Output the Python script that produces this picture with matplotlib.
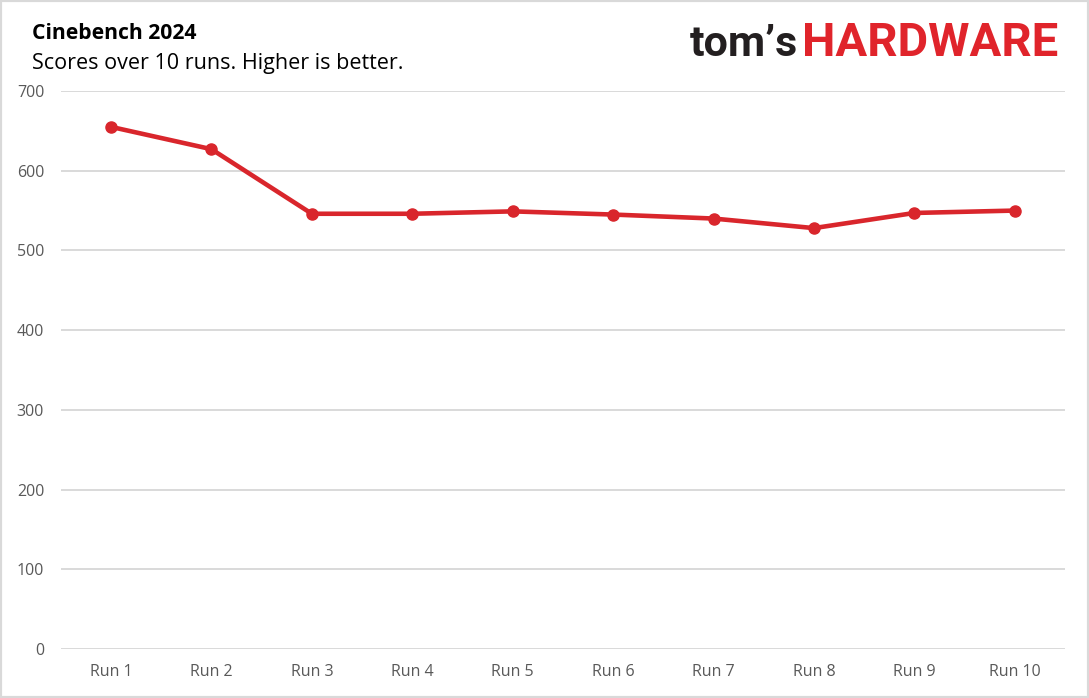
import matplotlib.pyplot as plt
from matplotlib.patches import Rectangle

runs = ['Run 1', 'Run 2', 'Run 3', 'Run 4', 'Run 5',
        'Run 6', 'Run 7', 'Run 8', 'Run 9', 'Run 10']
scores = [655, 627, 546, 546, 549, 545, 540, 528, 547, 550]
y_ticks = [0, 100, 200, 300, 400, 500, 600, 700]

RED = '#D9262C'
GRID = '#D9D9D9'
TICK = '#595959'

plt.rcParams['font.family'] = ['Open Sans', 'DejaVu Sans']

W, H = 1089, 698
fig = plt.figure(figsize=(W / 100, H / 100), dpi=100)
ax = fig.add_axes([60.8 / W, 1 - 649 / H, (1065 - 60.8) / W, (649 - 91) / H])

x = list(range(len(runs)))
ax.plot(x, scores, color=RED, linewidth=3.3, marker='o', markersize=8,
        solid_capstyle='round', zorder=3)

ax.set_xlim(-0.5, len(runs) - 0.5)
ax.set_ylim(0, 700)
ax.set_yticks(y_ticks)
ax.set_xticks(x)
ax.set_xticklabels(runs)
ax.grid(axis='y', color=GRID, linewidth=1.4)
ax.set_axisbelow(True)
for s in ax.spines.values():
    s.set_visible(False)
ax.tick_params(length=0, labelsize=11.5, labelcolor=TICK)
ax.tick_params(axis='y', pad=12)
ax.tick_params(axis='x', pad=11)

fig.text(32 / W, 1 - 39 / H, 'Cinebench 2024', fontsize=15.2, fontweight='bold',
         color='black', va='baseline')
fig.text(32 / W, 1 - 69 / H, 'Scores over 10 runs. Higher is better.',
         fontsize=15.5, color='black', va='baseline')

# logo
fig.text(1058 / W, 1 - 56 / H, 'HARDWARE', fontsize=34, fontweight='bold',
         family='Roboto', color='#E0242B', va='baseline', ha='right')
fig.text(798 / W, 1 - 56 / H, 'tom\u2019s', fontsize=31, fontweight='bold',
         family='Roboto', color='#231F20', va='baseline', ha='right')

fig.patches.append(Rectangle((0, 0), 1, 1, transform=fig.transFigure,
                             fill=False, edgecolor=GRID, linewidth=3))

fig.savefig('out.png', dpi=100)
